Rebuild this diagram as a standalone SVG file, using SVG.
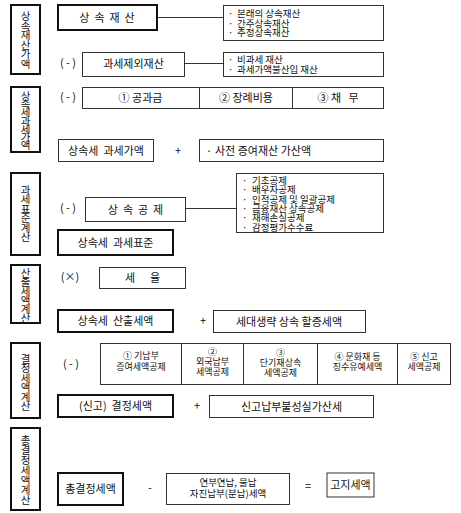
<svg xmlns="http://www.w3.org/2000/svg" width="461" height="513" viewBox="0 0 461 513">
<style>
  text { font-family: 'Noto Sans CJK KR', 'Noto Sans', sans-serif; font-size: 11px; fill: #111; }
  .c { text-anchor: middle; }
  .s { font-size: 9.5px; }
  .r { font-size: 9px; }
  .v { font-size: 10.5px; text-anchor: middle; writing-mode: vertical-rl; text-orientation: upright; }
  .lbl { fill: #fff; stroke: #111; stroke-width: 2; }
  .thick { fill: #fff; stroke: #111; stroke-width: 2; }
  .thin { fill: #fff; stroke: #333; stroke-width: 1; }
  .conn { stroke: #333; stroke-width: 1; fill: none; }
</style>
<rect width="461" height="513" fill="#fff"/>

<!-- Section labels -->
<g id="sec1-label">
  <rect class="lbl" x="11" y="5" width="29" height="69"/>
  <text class="v" x="25.5" y="39.5" letter-spacing="-1">상속재산가액</text>
</g>
<g id="sec2-label">
  <rect class="lbl" x="11" y="87" width="29" height="65"/>
  <text class="v" x="25.5" y="119.5" letter-spacing="-2.2">상속세과세가액</text>
</g>
<g id="sec3-label">
  <rect class="lbl" x="11" y="173" width="29" height="82"/>
  <text class="v" x="25.5" y="213" letter-spacing="-1.1">과세표준계산</text>
</g>
<g id="sec4-label">
  <rect class="lbl" x="11" y="265" width="29" height="58"/>
  <text class="v" x="25.5" y="294.5" letter-spacing="-1.5">산출세액계산</text>
</g>
<g id="sec5-label">
  <rect class="lbl" x="11" y="343" width="29" height="75"/>
  <text class="v" x="25.5" y="382" letter-spacing="-1">결정세액계산</text>
</g>
<g id="sec6-label">
  <rect class="lbl" x="11" y="428" width="29" height="82"/>
  <text class="v" x="25.5" y="470" letter-spacing="-0.5">총결정세액계산</text>
</g>

<!-- Connectors -->
<g id="connectors">
  <line class="conn" x1="157" y1="17.5" x2="223.5" y2="17.5"/>
  <line class="conn" x1="185" y1="63.5" x2="223.5" y2="63.5"/>
  <line class="conn" x1="185.5" y1="208.5" x2="236.5" y2="208.5"/>
</g>

<!-- Section 1 -->
<g id="n-sangsok-jaesan">
  <rect class="thick" x="58" y="5" width="99" height="25"/>
  <text class="c" x="107" y="21.5" xml:space="preserve">상  속  재  산</text>
</g>
<g id="n-list1">
  <rect class="thin" x="223.5" y="5.5" width="160" height="35"/>
  <text class="s"><tspan x="228" y="17">·</tspan><tspan x="237" y="17">본래의 상속재산</tspan></text>
  <text class="s"><tspan x="228" y="26.5">·</tspan><tspan x="237" y="26.5">간주상속재산</tspan></text>
  <text class="s"><tspan x="228" y="36">·</tspan><tspan x="237" y="36">추정상속재산</tspan></text>
</g>
<text x="68" y="67" class="c">( - )</text>
<g id="n-exclude">
  <rect class="thin" x="82.5" y="52.5" width="102" height="24"/>
  <text class="c" x="133.5" y="68">과세제외재산</text>
</g>
<g id="n-list2">
  <rect class="thin" x="223.5" y="52.5" width="160" height="24"/>
  <text class="s"><tspan x="228" y="62.5">·</tspan><tspan x="237" y="62.5">비과세 재산</tspan></text>
  <text class="s"><tspan x="228" y="72.5">·</tspan><tspan x="237" y="72.5">과세가액불산입 재산</tspan></text>
</g>

<!-- Section 2 -->
<text x="68" y="101" class="c">( - )</text>
<g id="n-deduct-row">
  <rect class="thin" x="82.5" y="87.5" width="301" height="21"/>
  <line class="thin" x1="199.5" y1="87.5" x2="199.5" y2="108.5"/>
  <line class="thin" x1="292.5" y1="87.5" x2="292.5" y2="108.5"/>
  <text class="c" x="140.5" y="102">① 공과금</text>
  <text class="c" x="246" y="102">② 장례비용</text>
  <text class="c" x="338" y="102" xml:space="preserve">③ 채   무</text>
</g>
<g id="n-taxable-value">
  <rect class="thin" x="58.5" y="139.5" width="95" height="22"/>
  <text class="c" x="106" y="155" xml:space="preserve">상속세  과세가액</text>
</g>
<text x="178" y="155" class="c">+</text>
<g id="n-prior-gift">
  <rect class="thin" x="199.5" y="139.5" width="184" height="22"/>
  <text x="206" y="155">·</text>
  <text x="215" y="155">사전 증여재산 가산액</text>
</g>

<!-- Section 3 -->
<text x="68" y="212" class="c">( - )</text>
<g id="n-sangsok-gongje">
  <rect class="thin" x="85.5" y="197.5" width="100" height="24"/>
  <text class="c" x="135.5" y="213.5" xml:space="preserve">상  속  공  제</text>
</g>
<g id="n-list3">
  <rect class="thin" x="236.5" y="173.5" width="147" height="59"/>
  <text class="s"><tspan x="242" y="184">·</tspan><tspan x="252" y="184">기초공제</tspan></text>
  <text class="s"><tspan x="242" y="193.3">·</tspan><tspan x="252" y="193.3">배우자공제</tspan></text>
  <text class="s"><tspan x="242" y="202.6">·</tspan><tspan x="252" y="202.6">인적공제 및 일괄공제</tspan></text>
  <text class="s"><tspan x="242" y="211.9">·</tspan><tspan x="252" y="211.9">금융재산 상속공제</tspan></text>
  <text class="s"><tspan x="242" y="221.2">·</tspan><tspan x="252" y="221.2">재해손실공제</tspan></text>
  <text class="s"><tspan x="242" y="230.5">·</tspan><tspan x="252" y="230.5">감정평가수수료</tspan></text>
</g>
<g id="n-tax-base">
  <rect class="thick" x="58" y="230" width="115" height="25"/>
  <text class="c" x="115.5" y="246.5" xml:space="preserve">상속세  과세표준</text>
</g>

<!-- Section 4 -->
<text x="70" y="281" class="c">(×)</text>
<g id="n-tax-rate">
  <rect class="thin" x="99.5" y="267.5" width="86" height="21"/>
  <text class="c" x="142.5" y="282" xml:space="preserve">세      율</text>
</g>
<g id="n-calc-tax">
  <rect class="thick" x="58" y="310" width="115" height="22"/>
  <text class="c" x="115.5" y="325" xml:space="preserve">상속세  산출세액</text>
</g>
<text x="203" y="325" class="c">+</text>
<g id="n-surcharge">
  <rect class="thin" x="213.5" y="310.5" width="152" height="22"/>
  <text class="c" x="289" y="325.5">세대생략 상속 할증세액</text>
</g>

<!-- Section 5 -->
<text x="71" y="368" class="c">( - )</text>
<g id="n-credit-row">
  <rect class="thin" x="100.5" y="343.5" width="350" height="41"/>
  <line class="thin" x1="181.5" y1="343.5" x2="181.5" y2="384.5"/>
  <line class="thin" x1="243.5" y1="343.5" x2="243.5" y2="384.5"/>
  <line class="thin" x1="317.5" y1="343.5" x2="317.5" y2="384.5"/>
  <line class="thin" x1="397.5" y1="343.5" x2="397.5" y2="384.5"/>
  <text class="c r"><tspan x="141" y="359">① 기납부</tspan><tspan x="141" y="370">증여세액공제</tspan></text>
  <text class="c r"><tspan x="212.5" y="355">②</tspan><tspan x="212.5" y="365">외국납부</tspan><tspan x="212.5" y="375">세액공제</tspan></text>
  <text class="c r"><tspan x="280.5" y="355.5">③</tspan><tspan x="280.5" y="365.5">단기재상속</tspan><tspan x="280.5" y="375.5">세액공제</tspan></text>
  <text class="c r"><tspan x="357.5" y="359.5">④ 문화재 등</tspan><tspan x="357.5" y="370">징수유예세액</tspan></text>
  <text class="c r"><tspan x="424" y="359.5">⑤ 신고</tspan><tspan x="424" y="370">세액공제</tspan></text>
</g>
<g id="n-decided-tax">
  <rect class="thick" x="58" y="395" width="115" height="22"/>
  <text class="c" x="115.5" y="410" xml:space="preserve">(신고)  결정세액</text>
</g>
<text x="197" y="410" class="c">+</text>
<g id="n-penalty">
  <rect class="thin" x="209.5" y="395.5" width="164" height="22"/>
  <text class="c" x="291.5" y="410.5">신고납부불성실가산세</text>
</g>

<!-- Section 6 -->
<g id="n-total-decided">
  <rect class="thick" x="58" y="473" width="65" height="32"/>
  <text class="c" x="90.5" y="493">총결정세액</text>
</g>
<text x="150" y="492" class="c">-</text>
<g id="n-installment">
  <rect class="thin" x="166.5" y="473.5" width="123" height="31"/>
  <text class="c s"><tspan x="228" y="486">연부연납, 물납</tspan><tspan x="228" y="496.5">자진납부(분납)세액</tspan></text>
</g>
<text x="308" y="490" class="c">=</text>
<g id="n-notice-tax">
  <rect class="thin" x="327" y="473" width="47" height="24" stroke-width="1.5"/>
  <text class="c" x="350.5" y="489">고지세액</text>
</g>
</svg>
